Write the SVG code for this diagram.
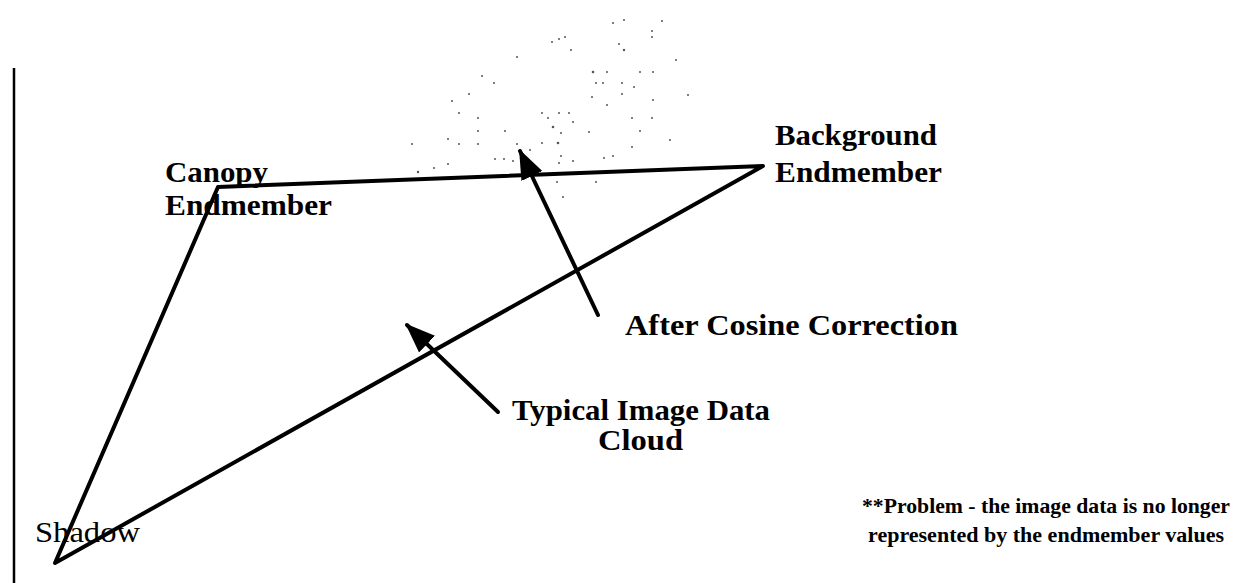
<svg xmlns="http://www.w3.org/2000/svg" width="1248" height="583" viewBox="0 0 1248 583">
<style>
.t{font-family:"Liberation Serif","Times New Roman",serif;font-weight:bold;font-size:29px;fill:#000}
.n{font-family:"Liberation Serif","Times New Roman",serif;font-weight:bold;font-size:21px;fill:#000}
.ln{stroke:#000;stroke-width:4;fill:none;stroke-linecap:round;stroke-linejoin:round}
.dot{fill:#555}
</style>
<defs>
<marker id="ah" markerUnits="userSpaceOnUse" markerWidth="30" markerHeight="30" refX="24" refY="10" orient="auto" viewBox="0 0 26 20">
<path d="M0,0 L26,10 L0,20 Z" fill="#000"/>
</marker>
</defs>
<rect width="1248" height="583" fill="#fff"/>
<g id="axis"><line x1="14" y1="68" x2="14" y2="583" stroke="#000" stroke-width="2.5"/></g>
<g id="cloud">
<circle class="dot" cx="613" cy="23" r="1"/><circle class="dot" cx="624" cy="20" r="1"/><circle class="dot" cx="662" cy="21" r="1"/>
<circle class="dot" cx="652" cy="31" r="1"/><circle class="dot" cx="652" cy="37" r="1"/><circle class="dot" cx="565" cy="37" r="1"/>
<circle class="dot" cx="559" cy="39" r="1"/><circle class="dot" cx="552" cy="42" r="1"/><circle class="dot" cx="619" cy="44" r="1"/>
<circle class="dot" cx="624" cy="50" r="1.2"/><circle class="dot" cx="571" cy="50" r="1"/><circle class="dot" cx="517" cy="57" r="1"/>
<circle class="dot" cx="593" cy="72" r="1.3"/><circle class="dot" cx="607" cy="72" r="1"/><circle class="dot" cx="640" cy="72" r="1"/>
<circle class="dot" cx="653" cy="72" r="1"/><circle class="dot" cx="482" cy="76" r="1"/><circle class="dot" cx="494" cy="83" r="1"/>
<circle class="dot" cx="596" cy="83" r="1"/><circle class="dot" cx="603" cy="83" r="1"/><circle class="dot" cx="622" cy="83" r="1"/>
<circle class="dot" cx="634" cy="87" r="1"/><circle class="dot" cx="469" cy="94" r="1"/><circle class="dot" cx="592" cy="97" r="1"/>
<circle class="dot" cx="622" cy="94" r="1"/><circle class="dot" cx="653" cy="100" r="1"/><circle class="dot" cx="452" cy="101" r="1"/>
<circle class="dot" cx="607" cy="105" r="1"/><circle class="dot" cx="459" cy="113" r="1"/><circle class="dot" cx="478" cy="118" r="1"/>
<circle class="dot" cx="542" cy="113" r="1"/><circle class="dot" cx="559" cy="113" r="1"/><circle class="dot" cx="569" cy="113" r="1"/>
<circle class="dot" cx="548" cy="118" r="1"/><circle class="dot" cx="573" cy="122" r="1"/><circle class="dot" cx="632" cy="118" r="1"/>
<circle class="dot" cx="652" cy="118" r="1"/><circle class="dot" cx="553" cy="127" r="1.3"/><circle class="dot" cx="478" cy="131" r="1"/>
<circle class="dot" cx="505" cy="131" r="1"/><circle class="dot" cx="561" cy="133" r="1"/><circle class="dot" cx="589" cy="132" r="1"/>
<circle class="dot" cx="640" cy="131" r="1"/><circle class="dot" cx="448" cy="139" r="1"/><circle class="dot" cx="412" cy="144" r="1"/>
<circle class="dot" cx="459" cy="144" r="1"/><circle class="dot" cx="478" cy="144" r="1"/><circle class="dot" cx="517" cy="144" r="1"/>
<circle class="dot" cx="542" cy="143" r="1"/><circle class="dot" cx="558" cy="143" r="1.3"/><circle class="dot" cx="632" cy="147" r="1"/>
<circle class="dot" cx="530" cy="150" r="1"/><circle class="dot" cx="561" cy="156" r="1"/><circle class="dot" cx="613" cy="156" r="1"/>
<circle class="dot" cx="604" cy="158" r="1"/><circle class="dot" cx="495" cy="159" r="1"/><circle class="dot" cx="504" cy="159" r="1"/>
<circle class="dot" cx="513" cy="161" r="1"/><circle class="dot" cx="559" cy="163" r="1"/><circle class="dot" cx="573" cy="161" r="1"/>
<circle class="dot" cx="434" cy="168" r="1"/><circle class="dot" cx="448" cy="164" r="1"/><circle class="dot" cx="418" cy="172" r="1.2"/>
<circle class="dot" cx="557" cy="182" r="1"/><circle class="dot" cx="596" cy="182" r="1"/><circle class="dot" cx="563" cy="197" r="1"/>
<circle class="dot" cx="676" cy="60" r="1"/><circle class="dot" cx="688" cy="95" r="1"/><circle class="dot" cx="670" cy="140" r="1"/>
</g>
<g id="connectors">
<path class="ln" d="M218,187 L763,166 L55,563 Z"/>
<line class="ln" x1="598" y1="315" x2="520" y2="151" marker-end="url(#ah)"/>
<line class="ln" x1="498" y1="412" x2="407" y2="325" marker-end="url(#ah)"/>
</g>
<g id="canopy"><text class="t" x="165" y="182" textLength="103" lengthAdjust="spacingAndGlyphs">Canopy</text><text class="t" x="165" y="215" textLength="167" lengthAdjust="spacingAndGlyphs">Endmember</text></g>
<g id="background"><text class="t" x="775" y="145" textLength="162" lengthAdjust="spacingAndGlyphs">Background</text><text class="t" x="775" y="182" textLength="167" lengthAdjust="spacingAndGlyphs">Endmember</text></g>
<g id="shadow"><text class="t" x="35" y="542" textLength="105" lengthAdjust="spacingAndGlyphs" style="font-weight:normal">Shadow</text></g>
<g id="after"><text class="t" x="625" y="335" textLength="333" lengthAdjust="spacingAndGlyphs">After Cosine Correction</text></g>
<g id="typical"><text class="t" x="512" y="420" textLength="258" lengthAdjust="spacingAndGlyphs">Typical Image Data</text><text class="t" x="598" y="450" textLength="85" lengthAdjust="spacingAndGlyphs">Cloud</text></g>
<g id="note"><text class="n" x="862" y="513" textLength="368" lengthAdjust="spacingAndGlyphs">**Problem - the image data is no longer</text><text class="n" x="868" y="542" textLength="356" lengthAdjust="spacingAndGlyphs">represented by the endmember values</text></g>
</svg>
